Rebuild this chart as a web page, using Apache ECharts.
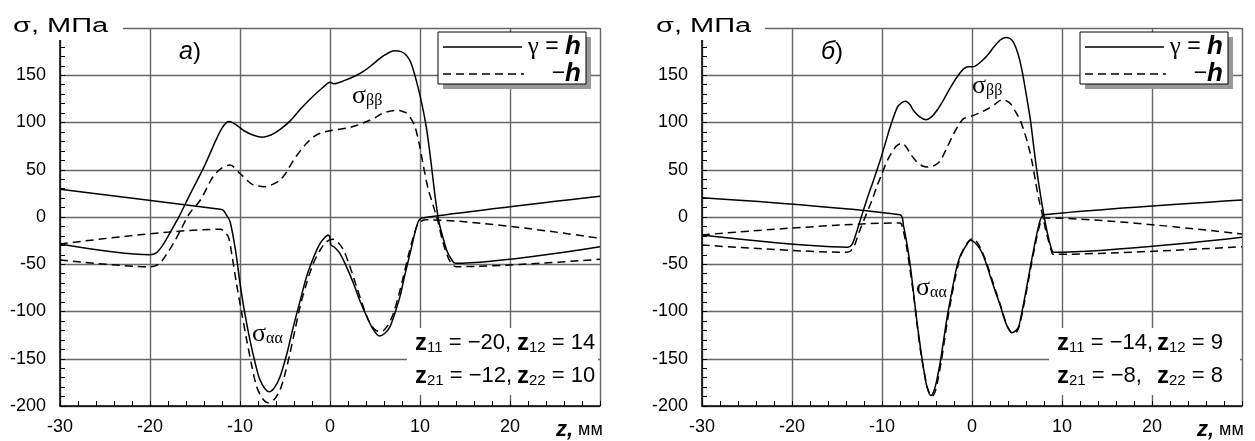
<!DOCTYPE html>
<html><head><meta charset="utf-8">
<script src="https://cdn.jsdelivr.net/npm/echarts@6/dist/echarts.min.js"></script>
<style>html,body{margin:0;padding:0;background:#fff}#c{width:1255px;height:441px}</style>
</head><body><div id="c"></div>
<script>
// ---- axis ticks ----
const xMin = -30, xMax = 30, xStep = 10;
const yMin = -200, yMax = 200, yStep = 50;

// ---- panel а) ----
const aSaaSolid = [[-30,29.3],[-12.2,8.1],[-11.85,7],[-11.5,2],[-11.1,-5],[-10.5,-35],[-10,-70],[-9.5,-100],[-8.9,-130],[-8.3,-155],[-7.8,-172],[-7.2,-182],[-6.75,-185],[-6.2,-181],[-5.55,-169],[-4.8,-145],[-4.07,-116],[-3.3,-88],[-2.6,-63],[-1.8,-42],[-1.1,-28],[-0.5,-21],[-0.2,-19],[0,-22],[0.1,-29.6],[0.5,-32],[1.1,-38.5],[1.8,-52],[2.6,-70],[3.3,-88],[4.07,-105],[4.8,-119],[5.48,-126],[6.1,-123],[6.67,-116],[7.2,-102],[7.78,-84],[8.3,-62],[8.9,-38.5],[9.4,-18],[9.8,-5],[10.2,-1],[30,22]];
const aSaaDash = [[-30,-28.6],[-12.2,-13],[-11.9,-14],[-11.3,-21],[-10.9,-40],[-10.4,-70],[-9.8,-102],[-9.26,-130],[-8.7,-157],[-8.15,-179.5],[-7.5,-192],[-6.85,-196.5],[-6.2,-193],[-5.55,-183],[-5,-166],[-4.44,-144],[-3.9,-120],[-3.33,-95],[-2.6,-70],[-1.85,-49],[-1.1,-35],[-0.37,-26],[0.37,-23.6],[0.9,-27],[1.5,-35],[2.2,-52],[2.96,-74],[3.7,-95],[4.44,-112.5],[5.1,-120],[5.74,-121],[6.4,-115],[7.04,-102],[7.6,-84],[8.15,-63],[8.7,-41],[9.26,-21],[9.7,-9],[10.2,-4],[10.7,-3],[30,-22.6]];
const aSbbSolid = [[-30,-28.6],[-20,-40],[-19.3,-38],[-18.6,-30],[-17.8,-17],[-16.85,-1],[-15.5,25],[-14,53],[-12.6,83],[-12,94],[-11.5,100],[-11.2,101],[-10.5,98],[-9.5,91],[-8.5,86.5],[-7.5,84.5],[-6.5,87],[-5.5,93],[-4.4,102],[-3.2,115],[-1.85,128],[-0.8,137],[0,142.6],[0.4,141],[1.5,144],[2.96,150],[4,156],[4.8,162],[6,171],[7.2,176],[7.9,175],[8.5,171],[9,163],[9.6,144],[10.2,120],[10.7,95],[11.2,60],[11.7,20],[12.1,-5],[12.5,-20],[13,-36],[13.5,-45],[13.9,-49],[30,-31.4]];
const aSbbDash = [[-30,-45.5],[-20,-52.6],[-19.5,-52],[-18.9,-49],[-18.2,-40],[-17.4,-28],[-16.5,-12],[-15.6,4],[-14.4,18],[-13,42.6],[-12,52],[-11.1,55],[-10,46],[-9,37],[-8.5,34],[-7.3,32],[-6.5,34],[-5.55,39],[-4.8,48],[-4.07,60],[-3.3,70],[-2.6,78],[-1.8,85],[-1.1,88.6],[0,91.3],[1.85,94],[3,97],[4.07,101],[5,105],[5.9,110],[6.7,112],[7.4,113],[8,112],[8.5,110],[9,104],[9.44,95.6],[9.9,78],[10.4,53],[10.9,30],[11.5,11],[12,-5],[12.5,-25],[13,-40],[13.4,-48],[14,-52.6],[30,-44.8]];

// ---- panel б) ----
const bSaaSolid = [[-30,20.4],[-8,2.5],[-7.6,-10],[-7.2,-30],[-6.85,-52],[-6.5,-80],[-6.1,-112],[-5.7,-140],[-5.37,-161],[-5,-180],[-4.56,-189],[-4.2,-183],[-3.9,-172],[-3.5,-152],[-3.15,-130],[-2.8,-108],[-2.4,-87],[-2,-67],[-1.67,-52],[-1.3,-41],[-0.93,-34.5],[-0.5,-28],[-0.19,-24.6],[0.3,-27],[0.93,-34.5],[1.5,-47],[2.04,-63],[2.6,-79],[3.15,-94],[3.6,-108],[3.9,-115.5],[4.44,-122.5],[4.9,-120],[5.2,-115.5],[5.6,-98],[6.1,-73],[6.5,-52],[6.85,-34.5],[7.2,-18],[7.6,-3],[8,2.5],[30,18]];
const bSaaDash = [[-30,-19],[-8,-6.3],[-7.7,-12],[-7.3,-30],[-6.9,-55],[-6.5,-82],[-6.1,-114],[-5.7,-143],[-5.3,-165],[-4.9,-182],[-4.45,-190],[-4.1,-185],[-3.8,-173],[-3.4,-152],[-3.05,-130],[-2.7,-108],[-2.3,-86],[-1.9,-66],[-1.55,-51],[-1.2,-40],[-0.8,-32],[-0.4,-26],[0,-23],[0.5,-26],[1.05,-35],[1.6,-48],[2.15,-64],[2.7,-80],[3.25,-96],[3.7,-110],[4.05,-118],[4.55,-123.5],[5,-121],[5.3,-114],[5.7,-96],[6.2,-71],[6.6,-50],[6.95,-33],[7.3,-17],[7.7,-4],[8.15,-1],[30,-18]];
const bSbbSolid = [[-30,-19],[-13.8,-32],[-13.4,-30],[-13.1,-24],[-12.4,-3],[-11.7,18],[-10.9,40],[-10.2,60],[-9.6,79],[-9.1,95],[-8.3,116],[-7.8,121],[-7.4,122.5],[-6.9,119],[-6.5,112.7],[-5.8,106],[-5.1,103],[-4.5,106],[-3.9,112.7],[-3.1,125],[-2.4,137],[-1.6,149],[-0.93,156.7],[-0.4,159],[0,159],[0.4,160],[0.93,163.7],[1.7,171],[2.4,179.6],[3.1,187],[3.7,190],[4.2,189],[4.6,185],[5.1,173],[5.56,155],[6,131],[6.5,102],[6.85,75],[7.2,49],[7.6,24],[7.96,3.5],[8.4,-18],[8.9,-36],[9.1,-37.4],[30,-21.5]];
const bSbbDash = [[-30,-29.6],[-13.9,-37.3],[-13.5,-36],[-13.1,-31],[-12.5,-15],[-12,-3],[-11.1,18],[-10.6,31.7],[-10,46],[-9.4,60],[-8.5,74],[-7.8,78],[-7.3,74],[-6.85,67],[-6.2,59],[-5.5,54],[-4.8,52.8],[-4.1,55],[-3.5,60],[-2.8,73],[-2.04,88],[-1.5,97],[-0.93,104],[0,107],[0.8,110],[1.67,114],[2.5,119],[3.33,124],[3.8,123],[4.26,120],[4.8,112],[5.37,102],[5.85,89],[6.3,74],[6.7,57],[7.04,38.7],[7.4,20],[7.8,3.5],[8.3,-18],[8.9,-38],[9.1,-39.5],[30,-31.4]];

// ---- texts ----
const yTitle = 'σ, МПа';
const panelLabels = ['а', 'б'];
const legendTexts = ['γ = ', '−'];
const annA = [['11', '−20,', '12', '14'], ['21', '−12,', '22', '10']];
const annB = [['11', '−14,', '12', '9'], ['21', '−8,', '22', '8']];

const chart = echarts.init(document.getElementById('c'));
const SANS = 'Arial, "Liberation Sans", sans-serif';
const SERIF = '"Times New Roman", "Liberation Serif", serif';
const DASH = [8, 5];

function xAx(i) {
  return {
    type: 'value', gridIndex: i, min: xMin, max: xMax, interval: xStep,
    axisLine: { onZero: false, lineStyle: { color: '#000', width: 1.5 } },
    axisTick: { show: true, inside: true, length: 5, lineStyle: { color: '#000' } },
    minorTick: { show: true, splitNumber: 5, length: 5, lineStyle: { color: '#000', width: 1 } },
    splitLine: { show: true, lineStyle: { color: '#666', width: 1.4 } },
    axisLabel: { fontSize: 18, fontFamily: SANS, color: '#000', margin: 12,
      formatter: v => (v === xMax ? '' : String(v)) }
  };
}
function yAx(i) {
  return {
    type: 'value', gridIndex: i, min: yMin, max: yMax, interval: yStep,
    axisLine: { onZero: false, lineStyle: { color: '#000', width: 1.5 } },
    axisTick: { show: true, inside: true, length: 5, lineStyle: { color: '#000' } },
    minorTick: { show: true, splitNumber: 5, length: 5, lineStyle: { color: '#000', width: 1 } },
    splitLine: { show: true, lineStyle: { color: '#666', width: 1.4 } },
    axisLabel: { fontSize: 18, fontFamily: SANS, color: '#000', margin: 14,
      formatter: v => (v === yMax ? '' : String(v)) }
  };
}
function ser(data, i, dashed) {
  return {
    type: 'line', data, xAxisIndex: i, yAxisIndex: i, showSymbol: false, symbol: 'none',
    smooth: 0.3, animation: false, z: 3,
    lineStyle: { color: '#000', width: 1.5, type: dashed ? DASH : 'solid' }
  };
}

const G = [];
function txt(x, y, text, rich, align, vAlign, extra) {
  G.push(Object.assign({ type: 'text', x, y, z: 60,
    style: { text, rich, align: align || 'left', verticalAlign: vAlign || 'middle', fill: '#000',
      fontSize: 18, fontFamily: SANS } }, extra || {}));
}
function rect(x, y, w, h, fill, stroke) {
  G.push({ type: 'rect', z: 55, shape: { x, y, width: w, height: h },
    style: { fill, stroke: stroke || null, lineWidth: stroke ? 1 : 0 } });
}
function line(x1, y1, x2, y2, dash) {
  G.push({ type: 'line', z: 61, shape: { x1, y1, x2, y2 },
    style: { stroke: '#000', lineWidth: 1.5, lineDash: dash || null } });
}

const richCommon = {
  s: { fontFamily: SERIF, fontSize: 26, lineHeight: 26, verticalAlign: 'middle' },
  sub: { fontFamily: SERIF, fontSize: 16, lineHeight: 16, verticalAlign: 'bottom', padding: [12, 0, 0, 0] },
  z: { fontFamily: SANS, fontSize: 24, fontWeight: 'bold', lineHeight: 24, verticalAlign: 'middle' },
  zs: { fontFamily: SANS, fontSize: 15, lineHeight: 15, verticalAlign: 'bottom', padding: [12, 0, 0, 0] },
  n: { fontFamily: SANS, fontSize: 22, lineHeight: 24, verticalAlign: 'middle' },
  nl: { fontFamily: SANS, fontSize: 24, lineHeight: 26, verticalAlign: 'middle' },
  it: { fontFamily: SANS, fontSize: 25, fontStyle: 'italic', lineHeight: 26, verticalAlign: 'middle' },
  h: { fontFamily: SANS, fontSize: 26, fontStyle: 'italic', fontWeight: 'bold', lineHeight: 26, verticalAlign: 'middle' },
  g: { fontFamily: SERIF, fontSize: 25, lineHeight: 26, verticalAlign: 'middle' },
  ge: { fontFamily: SANS, fontSize: 23, lineHeight: 26, verticalAlign: 'middle' },
  zx: { fontFamily: SANS, fontSize: 22, fontStyle: 'italic', fontWeight: 'bold', lineHeight: 22, verticalAlign: 'middle' },
  mm: { fontFamily: SANS, fontSize: 18, lineHeight: 22, verticalAlign: 'middle' },
  t: { fontFamily: SANS, fontSize: 20, lineHeight: 22, verticalAlign: 'middle' }
};

function panel(ox, ann, lbl, ttlX, boxEnd, sbbX, sbbY, saaX, saaY, zAxX, annX2) {
  // title box
  rect(ttlX - 14, 0, boxEnd - (ttlX - 14), 40, '#fff');
  txt(ttlX, 26, '{t|' + yTitle + '}', richCommon, 'left', 'middle', { scaleX: 1.45 });
  // panel letter
  txt(ox + 119, 52, '{it|' + lbl + '}{nl|)}', richCommon);
  // legend
  const lx = ox + 378;
  rect(lx + 5, 37, 148, 52, '#999');
  rect(lx, 32, 148, 52, '#fff', '#000');
  line(lx + 5, 47, lx + 84, 47);
  line(lx + 5, 74, lx + 86, 74, DASH);
  txt(lx + 143, 47, '{g|γ}{ge| = }{h|h}', richCommon, 'right');
  txt(lx + 143, 74, '{ge|' + legendTexts[1] + '}{h|h}', richCommon, 'right');
  // annotation box
  rect(ox + 347, 328, 191, 67, '#fff');
  [343, 376].forEach((yy, k) => {
    const r = ann[k];
    txt(ox + 355, yy, '{z|z}{zs|' + r[0] + '}{n| = ' + r[1] + '}', richCommon);
    txt(annX2, yy, '{z|z}{zs|' + r[2] + '}{n| = ' + r[3] + '}', richCommon);
  });
  // sigma labels
  txt(sbbX, sbbY, '{s|σ}{sub|ββ}', richCommon);
  txt(saaX, saaY, '{s|σ}{sub|αα}', richCommon);
  // axis name
  txt(zAxX, 430, '{zx|z,}{mm| мм}', richCommon);
}
panel(60, annA, panelLabels[0], 13, 123, 352, 96, 252, 334, 556, 517);
panel(702, annB, panelLabels[1], 656, 765, 972, 86, 916, 288, 1197, 1157);

chart.setOption({
  animation: false,
  backgroundColor: '#fff',
  grid: [
    { left: 60, top: 28, width: 540, height: 378 },
    { left: 702, top: 28, width: 540, height: 378 }
  ],
  xAxis: [xAx(0), xAx(1)],
  yAxis: [yAx(0), yAx(1)],
  series: [
    ser(aSaaSolid, 0, false), ser(aSaaDash, 0, true), ser(aSbbSolid, 0, false), ser(aSbbDash, 0, true),
    ser(bSaaSolid, 1, false), ser(bSaaDash, 1, true), ser(bSbbSolid, 1, false), ser(bSbbDash, 1, true)
  ],
  graphic: { elements: G }
});
</script></body></html>
